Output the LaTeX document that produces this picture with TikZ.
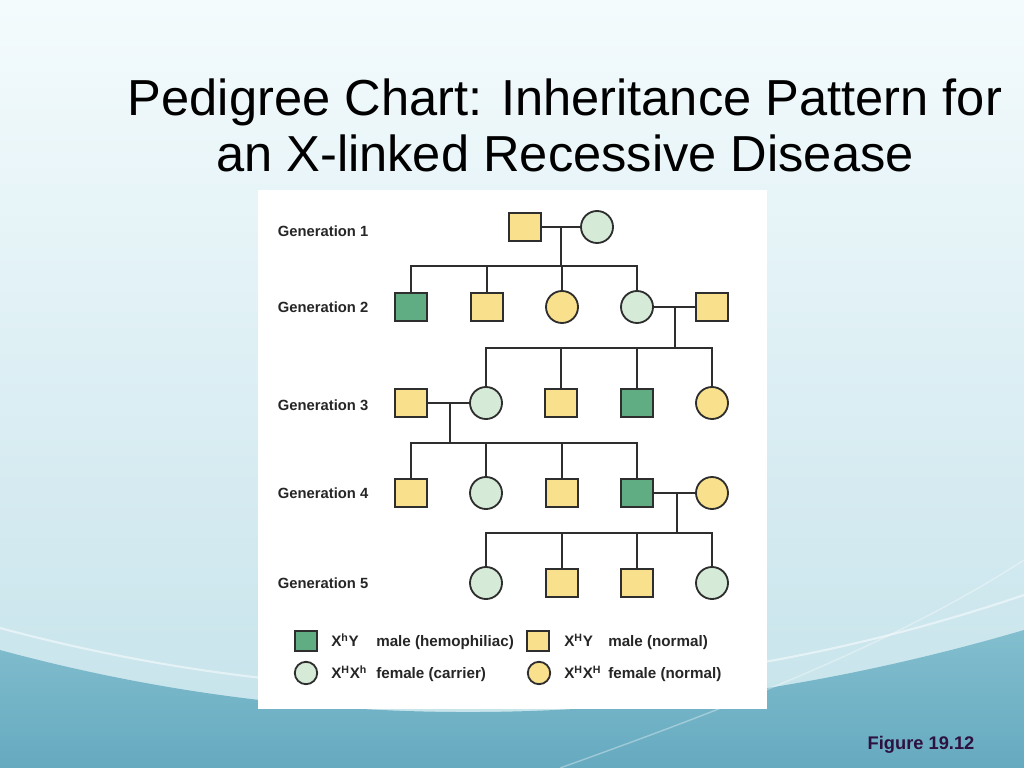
\documentclass[tikz,border=0pt]{standalone}
\usepackage{fontspec}
\setmainfont{Liberation Sans}
\usetikzlibrary{calc}

\definecolor{bgtop}{HTML}{F4FBFD}
\definecolor{bgmid}{HTML}{EAF6F9}
\definecolor{bgbot}{HTML}{C4E2EA}
\definecolor{wavetop}{HTML}{82BECE}
\definecolor{wavebot}{HTML}{66AAC0}
\definecolor{hemo}{HTML}{60AD84}
\definecolor{carrier}{HTML}{D6EAD8}
\definecolor{normal}{HTML}{F8E08C}
\definecolor{edge}{HTML}{2E2E2E}
\definecolor{figtxt}{HTML}{2D1140}

\tikzset{
  male/.style={draw=edge, line width=1.3pt, rectangle, minimum width=0.8cm, minimum height=0.7cm, inner sep=0pt},
  female/.style={draw=edge, line width=1.3pt, circle, minimum size=0.8cm, inner sep=0pt},
  legmale/.style={male, minimum width=0.55cm, minimum height=0.5cm},
  legfemale/.style={female, minimum size=0.56cm},
  link/.style={draw=edge, line width=1.3pt},
  genlabel/.style={anchor=west, font=\fontsize{10.5}{12}\selectfont\bfseries, text=black!85},
  legtext/.style={anchor=mid west, font=\fontsize{10.8}{12}\selectfont\bfseries, text=black!85, inner sep=0pt}
}

\begin{document}
\begin{tikzpicture}[x=0.025cm, y=-0.025cm]
    \useasboundingbox (0,0) rectangle (1024,768);
    % background and wave
    \shade[top color=bgtop, middle color=bgmid, bottom color=bgbot] (0,0) rectangle (1024,768);
    \shade[top color=wavetop, bottom color=wavebot]
      (0,650) .. controls (350,745) and (700,725) .. (1024,630) -- (1024,768) -- (0,768) -- cycle;
    \draw[white, opacity=0.5, line width=1.5pt] (0,628) .. controls (350,722) and (700,705) .. (1024,595);
    \draw[white, opacity=0.35, line width=1pt] (560,768) .. controls (750,700) and (900,640) .. (1024,560);
    % title
    \node[align=center, font=\fontsize{36}{39.7}\selectfont] (title) at (565,125)
      {Pedigree Chart: Inheritance Pattern for\\an X-linked Recessive Disease};
    % white panel
    \fill[white] (258,190) rectangle (767,709);

    % generation labels
    \node[genlabel] (lab1) at (273,231) {Generation 1};
    \node[genlabel] (lab2) at (273,307) {Generation 2};
    \node[genlabel] (lab3) at (273,405) {Generation 3};
    \node[genlabel] (lab4) at (273,493) {Generation 4};
    \node[genlabel] (lab5) at (273,583) {Generation 5};

    % Generation 1
    \node[male, fill=normal] (g1m) at (525,227) {};
    \node[female, fill=carrier] (g1f) at (597,227) {};
    % Generation 2
    \node[male, fill=hemo] (g2a) at (411,307) {};
    \node[male, fill=normal] (g2b) at (487,307) {};
    \node[female, fill=normal] (g2c) at (562,307) {};
    \node[female, fill=carrier] (g2d) at (637,307) {};
    \node[male, fill=normal] (g2e) at (712,307) {};
    % Generation 3
    \node[male, fill=normal] (g3a) at (411,403) {};
    \node[female, fill=carrier] (g3b) at (486,403) {};
    \node[male, fill=normal] (g3c) at (561,403) {};
    \node[male, fill=hemo] (g3d) at (637,403) {};
    \node[female, fill=normal] (g3e) at (712,403) {};
    % Generation 4
    \node[male, fill=normal] (g4a) at (411,493) {};
    \node[female, fill=carrier] (g4b) at (486,493) {};
    \node[male, fill=normal] (g4c) at (562,493) {};
    \node[male, fill=hemo] (g4d) at (637,493) {};
    \node[female, fill=normal] (g4e) at (712,493) {};
    % Generation 5
    \node[female, fill=carrier] (g5a) at (486,583) {};
    \node[male, fill=normal] (g5b) at (562,583) {};
    \node[male, fill=normal] (g5c) at (637,583) {};
    \node[female, fill=carrier] (g5d) at (712,583) {};

    % couples and descent lines
    \draw[link] (g1m) -- (g1f);
    \coordinate (c1) at ($(g1m)!0.5!(g1f)$);
    \coordinate (b1) at ($(c1)+(0,39)$);
    \draw[link] (c1) -- (b1);
    \foreach \k in {g2a,g2b,g2c,g2d} \draw[link] (\k) |- (b1);

    \draw[link] (g2d) -- (g2e);
    \coordinate (c2) at ($(g2d)!0.5!(g2e)+(0.5,0)$);
    \coordinate (b2) at ($(c2)+(0,41)$);
    \draw[link] (c2) -- (b2);
    \foreach \k in {g3b,g3c,g3d,g3e} \draw[link] (\k) |- (b2);

    \draw[link] (g3a) -- (g3b);
    \coordinate (c3) at ($(g3a)!0.5!(g3b)+(1.5,0)$);
    \coordinate (b3) at ($(c3)+(0,40)$);
    \draw[link] (c3) -- (b3);
    \foreach \k in {g4a,g4b,g4c,g4d} \draw[link] (\k) |- (b3);

    \draw[link] (g4d) -- (g4e);
    \coordinate (c4) at ($(g4d)!0.5!(g4e)+(2.5,0)$);
    \coordinate (b4) at ($(c4)+(0,40)$);
    \draw[link] (c4) -- (b4);
    \foreach \k in {g5a,g5b,g5c,g5d} \draw[link] (\k) |- (b4);

    % legend
    \node[legmale, fill=hemo] (key1) at (306,641) {};
    \node[legtext] (key1g) at (331,643) {X\textsuperscript{h}Y};
    \node[legtext] (key1t) at (376,643) {male (hemophiliac)};
    \node[legmale, fill=normal] (key2) at (538,641) {};
    \node[legtext] (key2g) at (564,643) {X\textsuperscript{H}Y};
    \node[legtext] (key2t) at (608,643) {male (normal)};
    \node[legfemale, fill=carrier] (key3) at (306,673) {};
    \node[legtext] (key3g) at (331,675) {X\textsuperscript{H}X\textsuperscript{h}};
    \node[legtext] (key3t) at (376,675) {female (carrier)};
    \node[legfemale, fill=normal] (key4) at (539,673) {};
    \node[legtext] (key4g) at (564,675) {X\textsuperscript{H}X\textsuperscript{H}};
    \node[legtext] (key4t) at (608,675) {female (normal)};

    % figure number
    \node[font=\fontsize{13}{15}\selectfont\bfseries, text=figtxt] (fig) at (921,745) {Figure 19.12};
\end{tikzpicture}
\end{document}
